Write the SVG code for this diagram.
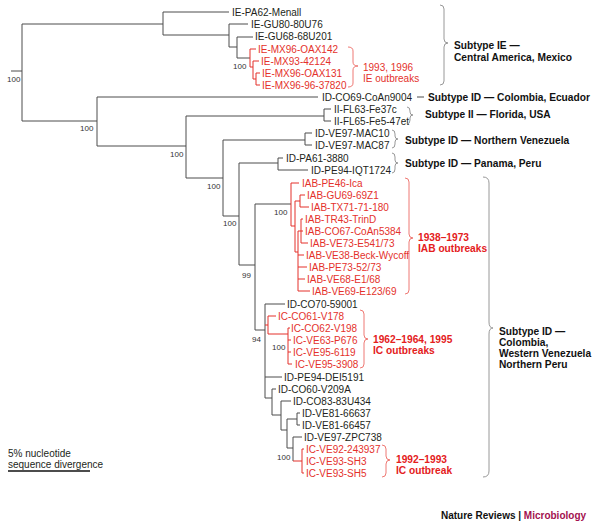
<svg xmlns="http://www.w3.org/2000/svg" width="600" height="528" viewBox="0 0 600 528">
<style>
text{font-family:"Liberation Sans",Arial,sans-serif;font-size:10px;fill:#231f20}
.r{fill:#e4312b}
.b{font-weight:bold;font-size:10.2px;fill:#111}
.rb{font-weight:bold;font-size:10.2px;fill:#e4201c}
.bs{font-size:8px;fill:#333}
.ln{stroke:#4d4d4d;stroke-width:1;fill:none}
.lr{stroke:#e4312b;stroke-width:1;fill:none}
.br{stroke:#8c8c8c;fill:none;stroke-width:0.9}
.brr{stroke:#ec6a64;fill:none;stroke-width:0.9}
</style>
<rect width="600" height="528" fill="#fff"/>
<g id="connectors">
<path class="ln" d="M11,71H22M22,24V121M22,24H163M22,121H97"/>
<path class="ln" d="M163,12V35M163,12H229M163,35H229"/>
<path class="ln" d="M229,24V47M229,24H248M229,47H237"/>
<path class="ln" d="M237,37V58M237,37H253M237,58H250"/>
<path class="lr" d="M250,49V67M250,49H256M250,67H253M253,61V79M253,61H259M253,79H256M256,73V85M256,73H260M256,85H260"/>
<path class="ln" d="M97,97V146M97,97H318M97,146H186"/>
<path class="ln" d="M186,116V178M186,116H324M186,178H223"/>
<path class="ln" d="M324,109V121M324,109H331M324,121H331"/>
<path class="ln" d="M223,140V216M223,140H305M223,216H239"/>
<path class="ln" d="M305,133V145M305,133H312M305,145H312"/>
<path class="ln" d="M239,163V265M239,163H278M239,265H255"/>
<path class="ln" d="M278,158V170M278,158H283M278,170H308"/>
<path class="ln" d="M255,204V330M255,204H291M255,330H265"/>
<path class="lr" d="M291,183V226M291,183H299M291,226H295"/>
<path class="lr" d="M295,201V252M295,201H300M295,252H298"/>
<path class="lr" d="M300,195V207M300,195H305M300,207H309"/>
<path class="lr" d="M298,231V291M298,231H301M298,255H304M298,267H307M298,279H305M298,291H310"/>
<path class="lr" d="M301,219V243M301,219H303M301,231H303M301,243H308"/>
<path class="ln" d="M265,304V398M265,304H285M265,377H282M265,398H272"/>
<path class="lr" d="M265,325H268M268,316V334M268,316H276M268,334H288"/>
<path class="lr" d="M288,328V364M288,328H290M288,340H291M288,352H291M288,364H292"/>
<path class="ln" d="M272,389V415M272,389H276M272,415H281"/>
<path class="ln" d="M281,401V430M281,401H291M281,430H287"/>
<path class="ln" d="M287,419V448M287,419H297M287,448H293"/>
<path class="ln" d="M297,413V425M297,413H300M297,425H300"/>
<path class="ln" d="M293,437V461M293,437H302"/>
<path class="lr" d="M293,461H302M302,449V473M302,449H304M302,473H304"/>
<path class="ln" d="M417,97H424"/>
<path d="M8,471H90" stroke="#111" stroke-width="1.3"/>
</g>
<g id="support">
<text class="bs" x="7" y="82">100</text>
<text class="bs" x="233" y="69">100</text>
<text class="bs" x="80" y="131">100</text>
<text class="bs" x="170" y="157">100</text>
<text class="bs" x="207" y="189">100</text>
<text class="bs" x="223" y="226">100</text>
<text class="bs" x="274" y="215">100</text>
<text class="bs" x="242" y="278">99</text>
<text class="bs" x="252" y="342">94</text>
<text class="bs" x="272" y="350">100</text>
<text class="bs" x="277" y="460">100</text>
</g>
<g id="leaves">
<g id="n1"><text x="232" y="15.5">IE-PA62-Menall</text></g>
<g id="n2"><text x="251" y="27.5">IE-GU80-80U76</text></g>
<g id="n3"><text x="255" y="39.5">IE-GU68-68U201</text></g>
<g id="n4"><text class="r" x="258" y="52.5">IE-MX96-OAX142</text></g>
<g id="n5"><text class="r" x="261" y="64.5">IE-MX93-42124</text></g>
<g id="n6"><text class="r" x="262" y="76.5">IE-MX96-OAX131</text></g>
<g id="n7"><text class="r" x="262" y="88.5">IE-MX96-96-37820</text></g>
<g id="n8"><text x="322" y="100.5">ID-CO69-CoAn9004</text></g>
<g id="n9"><text x="334" y="112.5">II-FL63-Fe37c</text></g>
<g id="n10"><text x="334" y="124.5">II-FL65-Fe5-47et</text></g>
<g id="n11"><text x="315" y="136.5">ID-VE97-MAC10</text></g>
<g id="n12"><text x="315" y="148.5">ID-VE97-MAC87</text></g>
<g id="n13"><text x="286" y="161.5">ID-PA61-3880</text></g>
<g id="n14"><text x="311" y="173.5">ID-PE94-IQT1724</text></g>
<g id="n15"><text class="r" x="302" y="186.5">IAB-PE46-Ica</text></g>
<g id="n16"><text class="r" x="307" y="198.5">IAB-GU69-69Z1</text></g>
<g id="n17"><text class="r" x="311" y="210.5">IAB-TX71-71-180</text></g>
<g id="n18"><text class="r" x="305" y="222.5">IAB-TR43-TrinD</text></g>
<g id="n19"><text class="r" x="305" y="234.5">IAB-CO67-CoAn5384</text></g>
<g id="n20"><text class="r" x="310" y="246.5">IAB-VE73-E541/73</text></g>
<g id="n21"><text class="r" x="306" y="258.5">IAB-VE38-Beck-Wycoff</text></g>
<g id="n22"><text class="r" x="309" y="270.5">IAB-PE73-52/73</text></g>
<g id="n23"><text class="r" x="307" y="282.5">IAB-VE68-E1/68</text></g>
<g id="n24"><text class="r" x="312" y="294.5">IAB-VE69-E123/69</text></g>
<g id="n25"><text x="287" y="307.5">ID-CO70-59001</text></g>
<g id="n26"><text class="r" x="278" y="319.5">IC-CO61-V178</text></g>
<g id="n27"><text class="r" x="291" y="331.5">IC-CO62-V198</text></g>
<g id="n28"><text class="r" x="293" y="343.5">IC-VE63-P676</text></g>
<g id="n29"><text class="r" x="293" y="355.5">IC-VE95-6119</text></g>
<g id="n30"><text class="r" x="295" y="367.5">IC-VE95-3908</text></g>
<g id="n31"><text x="284" y="380.5">ID-PE94-DEI5191</text></g>
<g id="n32"><text x="278" y="392.5">ID-CO60-V209A</text></g>
<g id="n33"><text x="293" y="404.5">ID-CO83-83U434</text></g>
<g id="n34"><text x="302" y="416.5">ID-VE81-66637</text></g>
<g id="n35"><text x="302" y="428.5">ID-VE81-66457</text></g>
<g id="n36"><text x="304" y="440.5">ID-VE97-ZPC738</text></g>
<g id="n37"><text class="r" x="306" y="452.5">IC-VE92-243937</text></g>
<g id="n38"><text class="r" x="306" y="464.5">IC-VE93-SH3</text></g>
<g id="n39"><text class="r" x="306" y="476.5">IC-VE93-SH5</text></g>
</g>
<g id="brackets">
<path class="br" d="M440,5Q444,5 444,9V39Q444,43 448,43Q444,43 444,47V81Q444,85 440,85"/>
<path class="brr" d="M348,47Q353,47 353,51V62Q353,66 358,66Q353,66 353,70V83Q353,87 348,87"/>
<path class="br" d="M407,107Q410,107 410,111V112Q410,115 413,115Q410,115 410,118V120Q410,124 407,124"/>
<path class="br" d="M392,130Q395,130 395,134V136Q395,139 398,139Q395,139 395,142V144Q395,148 392,148"/>
<path class="br" d="M392,153Q395,153 395,157V160Q395,163 398,163Q395,163 395,166V169Q395,173 392,173"/>
<path class="brr" d="M405,178Q409,178 409,182V234Q409,238 413,238Q409,238 409,242V290Q409,294 405,294"/>
<path class="brr" d="M360,310Q364,310 364,314V335Q364,339 368,339Q364,339 364,343V364Q364,368 360,368"/>
<path class="brr" d="M382,445Q386,445 386,449V456Q386,460 390,460Q386,460 386,464V473Q386,477 382,477"/>
<path class="br" d="M483,177Q489,177 489,183V322Q489,328 493,328Q489,328 489,334V471Q489,477 483,477"/>
</g>
<g id="annotations">
<text class="r" x="363" y="71">1993, 1996</text>
<text class="r" x="363" y="82">IE outbreaks</text>
<text class="b" x="454" y="49">Subtype IE —</text>
<text class="b" x="454" y="61">Central America, Mexico</text>
<text class="b" x="428" y="101">Subtype ID — Colombia, Ecuador</text>
<text class="b" x="425" y="118">Subtype II — Florida, USA</text>
<text class="b" x="405" y="144">Subtype ID — Northern Venezuela</text>
<text class="b" x="405" y="167">Subtype ID — Panama, Peru</text>
<text class="rb" x="418" y="241">1938–1973</text>
<text class="rb" x="418" y="252">IAB outbreaks</text>
<text class="rb" x="373" y="343">1962–1964, 1995</text>
<text class="rb" x="373" y="354">IC outbreaks</text>
<text class="rb" x="396" y="463">1992–1993</text>
<text class="rb" x="396" y="474">IC outbreak</text>
<text class="b" x="499" y="335">Subtype ID —</text>
<text class="b" x="499" y="346">Colombia,</text>
<text class="b" x="499" y="357">Western Venezuela</text>
<text class="b" x="499" y="368">Northern Peru</text>
<text x="8" y="457">5% nucleotide</text>
<text x="8" y="468">sequence divergence</text>
<text x="441" y="519" style="font-weight:bold;fill:#111">Nature Reviews | <tspan style="fill:#a3104f">Microbiology</tspan></text>
</g>
</svg>
